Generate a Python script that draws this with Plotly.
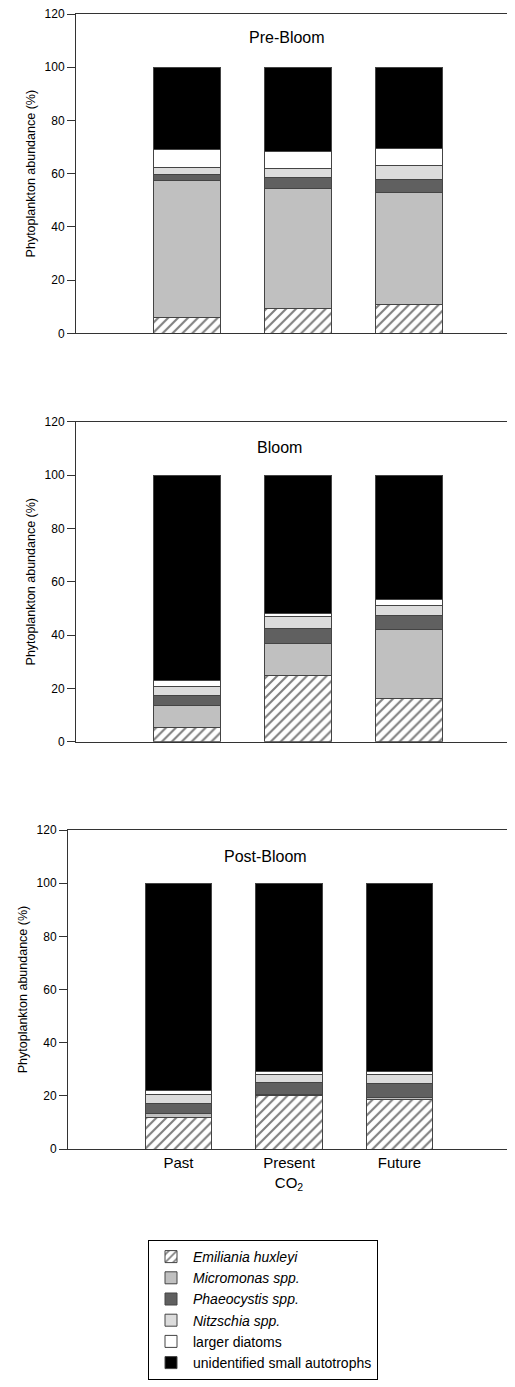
import plotly.graph_objects as go

categories = ["Past", "Present", "Future"]
tick_labels = ["Past", "Present<br>CO<sub>2</sub>", "Future"]

series_names = [
    "<i>Emiliania huxleyi</i>",
    "<i>Micromonas spp.</i>",
    "<i>Phaeocystis spp.</i>",
    "<i>Nitzschia spp.</i>",
    "larger diatoms",
    "unidentified small autotrophs",
]

# Pre-Bloom
pre_ehux = [6.0, 9.4, 11.0]
pre_micro = [51.25, 45.0, 42.1]
pre_phaeo = [2.5, 4.1, 4.6]
pre_nitz = [2.75, 3.5, 5.2]
pre_larger = [6.5, 6.5, 6.5]
pre_unid = [31.0, 31.5, 30.6]

# Bloom
bl_ehux = [5.5, 24.9, 16.25]
bl_micro = [8.1, 12.1, 26.0]
bl_phaeo = [3.65, 5.6, 5.15]
bl_nitz = [3.35, 4.3, 3.7]
bl_larger = [2.5, 1.35, 2.4]
bl_unid = [76.9, 51.75, 46.5]

# Post-Bloom
po_ehux = [11.8, 20.1, 18.6]
po_micro = [1.4, 0.3, 0.8]
po_phaeo = [3.85, 4.8, 5.2]
po_nitz = [3.35, 3.0, 3.4]
po_larger = [1.5, 0.9, 1.2]
po_unid = [78.1, 70.9, 70.8]

panels = [
    ("Pre-Bloom", [pre_ehux, pre_micro, pre_phaeo, pre_nitz, pre_larger, pre_unid]),
    ("Bloom", [bl_ehux, bl_micro, bl_phaeo, bl_nitz, bl_larger, bl_unid]),
    ("Post-Bloom", [po_ehux, po_micro, po_phaeo, po_nitz, po_larger, po_unid]),
]

fills = ["white", "#c0c0c0", "#606060", "#dcdcdc", "white", "black"]

# page body has an 8px margin; figure sized to fit the 515x1387 window
OFF = 8
W, H = 515 - OFF, 1387 - OFF
FONT = "Liberation Sans, Arial, sans-serif"


def px_x(x):
    return (x - OFF) / W


def px_y(y):
    return 1 - (y - OFF) / H


fig = go.Figure()
xpos = [0, 1, 2]
for p, (title, vals) in enumerate(panels):
    xa = "x" if p == 0 else f"x{p+1}"
    ya = "y" if p == 0 else f"y{p+1}"
    for s, (name, v) in enumerate(zip(series_names, vals)):
        marker = dict(color=fills[s], line=dict(color="#444444", width=1))
        if s == 0:
            marker["pattern"] = dict(shape="/", fgcolor="black", bgcolor="white",
                                     size=7, solidity=0.3)
        fig.add_trace(go.Bar(
            x=xpos, y=v, name=name, marker=marker, width=0.6,
            xaxis=xa, yaxis=ya, showlegend=(p == 0),
            legendrank=s,
        ))


def ydom(top_px, bot_px):
    return [px_y(bot_px), px_y(top_px)]


line_col = "#333333"
yax_common = dict(range=[0, 120], tickvals=[0, 20, 40, 60, 80, 100, 120],
                  ticks="outside", ticklen=8, tickcolor=line_col,
                  showline=True, linecolor=line_col, linewidth=1,
                  showgrid=False, zeroline=False, automargin=False,
                  ticklabeloverflow="allow",
                  tickfont=dict(size=12, color="black", family=FONT),
                  title=dict(text="Phytoplankton abundance (%)",
                             font=dict(size=12.5, color="black", family=FONT),
                             standoff=6))

layout = dict(
    width=W, height=H, margin=dict(l=0, r=0, t=0, b=0, autoexpand=False),
    plot_bgcolor="white", paper_bgcolor="white",
    barmode="stack", bargap=0.4,
    font=dict(family=FONT, color="black"),
)

# Panels 1 and 2: right edge cut off by the window edge
r12 = [-1, -1 + (515 - 76) / 111.0]
layout["xaxis"] = dict(domain=[px_x(76), 1.0], range=r12, showline=True, mirror=True,
                       linecolor=line_col, linewidth=1, showgrid=False, zeroline=False,
                       showticklabels=False, ticks="", anchor="y", automargin=False)
layout["yaxis"] = dict(domain=ydom(14, 333.3), anchor="x", **yax_common)
layout["xaxis2"] = dict(domain=[px_x(76), 1.0], range=r12, showline=True, mirror=True,
                        linecolor=line_col, linewidth=1, showgrid=False, zeroline=False,
                        showticklabels=False, ticks="", anchor="y2", automargin=False)
layout["yaxis2"] = dict(domain=ydom(421.7, 741.7), anchor="x2", **yax_common)
layout["xaxis3"] = dict(domain=[px_x(68), px_x(510)], range=[-1, 3], showline=True, mirror=True,
                        linecolor=line_col, linewidth=1, showgrid=False, zeroline=False,
                        tickvals=xpos, ticktext=tick_labels, ticks="", automargin=False,
                        ticklabeloverflow="allow",
                        tickfont=dict(size=15, color="black", family=FONT), anchor="y3")
layout["yaxis3"] = dict(domain=ydom(830, 1149), anchor="x3", mirror=True, **yax_common)

layout["legend"] = dict(
    x=px_x(148), y=px_y(1240), xanchor="left", yanchor="top",
    bordercolor="black", borderwidth=1, bgcolor="white",
    font=dict(size=14, color="black", family=FONT),
    traceorder="normal", tracegroupgap=0, itemwidth=34,
    entrywidth=285, entrywidthmode="pixels",
)

fig.update_layout(**layout)

title_pos = [("Pre-Bloom", 247, 37), ("Bloom", 255, 447), ("Post-Bloom", 222, 856)]
for t, xp, yp in title_pos:
    fig.add_annotation(text=t, xref="paper", yref="paper", x=px_x(xp), y=px_y(yp),
                       xanchor="left", yanchor="middle", showarrow=False,
                       font=dict(size=16, color="black", family=FONT))

fig.write_html("out.html")
